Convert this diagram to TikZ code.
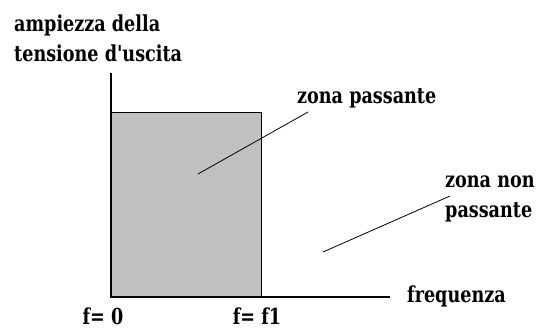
\documentclass[tikz,border=0pt]{standalone}
\usepackage{fontspec}
\newfontfamily\labfont[FakeStretch=0.8]{DejaVu Serif Bold}
\definecolor{zona}{RGB}{192,192,192}
\tikzset{
  etiqueta/.style={font=\labfont\fontsize{22}{30}\selectfont, inner sep=0pt, align=left},
  eje/.style={line width=1.4pt},
  guia/.style={line width=0.8pt}
}
\begin{document}
\begin{tikzpicture}[x=1pt, y=-1pt]
    \useasboundingbox (0,0) rectangle (546,329);
    % Zona passante
    \node[draw, line width=1.4pt, fill=zona, rectangle, minimum width=150pt, minimum height=184pt, inner sep=0pt, anchor=south west] (banda) at (111,297) {};
    % Ejes
    \coordinate (origen) at (111,297);
    \coordinate (ytop) at (111,73);
    \coordinate (xfin) at (390,297);
    \draw[eje] (ytop) -- (origen) -- (xfin);
    % Nodos
    \node[etiqueta, anchor=base west] (ampiezza) at (14,62) {ampiezza della\\tensione d'uscita};
    \node[etiqueta, anchor=base west] (passante) at (297,103) {zona passante};
    \node[etiqueta, anchor=base west] (nonpassante) at (445,217) {zona non\\passante};
    \node[etiqueta, anchor=base west] (frequenza) at (407,302) {frequenza};
    \node[etiqueta, anchor=base] (fzero) at (103,324) {f= 0};
    \node[etiqueta, anchor=base] (funo) at (257,324) {f= f1};
    % Guias
    \coordinate (p1) at (198,174);
    \coordinate (q1) at (308,112);
    \coordinate (p2) at (323,252);
    \coordinate (q2) at (450,196);
    \draw[guia] (p1) -- (q1);
    \draw[guia] (p2) -- (q2);
\end{tikzpicture}
\end{document}
